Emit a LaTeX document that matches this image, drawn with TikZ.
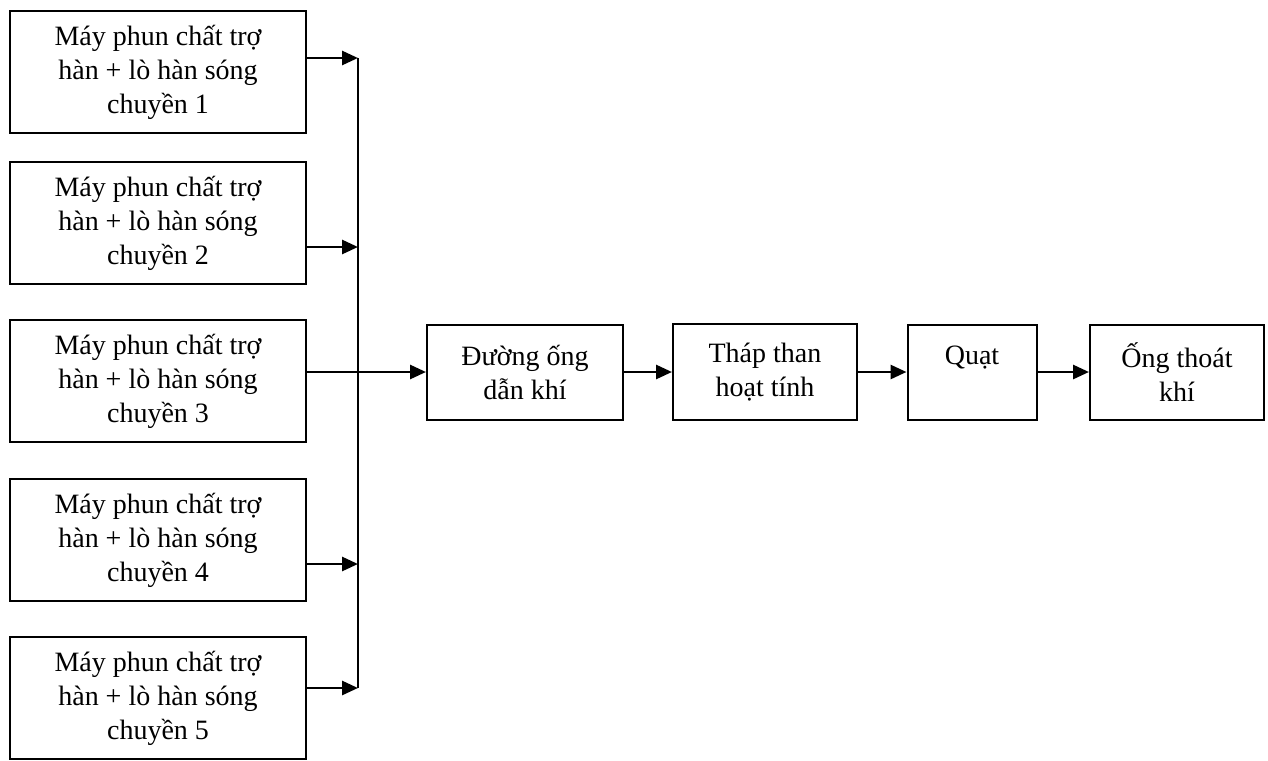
\documentclass[tikz,border=0pt]{standalone}
\usepackage{fontspec}
\setmainfont{Liberation Serif}
\usetikzlibrary{arrows.meta}

\begin{document}
\begin{tikzpicture}[x=0.5pt,y=-0.5pt,
      hop/.style={rectangle, draw, line width=1pt, align=center,
        font=\fontsize{14}{17}\selectfont, inner sep=0pt},
      may/.style={hop, minimum width=148pt, minimum height=61pt},
      arr/.style={-{Triangle[length=8pt,width=7pt]}, line width=1.4pt}
      ]
      \useasboundingbox (0,0) rectangle (1268,760);
      % may phun + lo han
      \node[may] (may1) at (158,72) {Máy phun chất trợ\\hàn + lò hàn sóng\\chuyền 1};
      \node[may] (may2) at (158,223) {Máy phun chất trợ\\hàn + lò hàn sóng\\chuyền 2};
      \node[may] (may3) at (158,381) {Máy phun chất trợ\\hàn + lò hàn sóng\\chuyền 3};
      \node[may] (may4) at (158,540) {Máy phun chất trợ\\hàn + lò hàn sóng\\chuyền 4};
      \node[may] (may5) at (158,698) {Máy phun chất trợ\\hàn + lò hàn sóng\\chuyền 5};
      % xu ly khi
      \node[hop, minimum width=98pt, minimum height=47.5pt] (duong) at (525,372) {Đường ống\\dẫn khí};
      \node[hop, minimum width=92pt, minimum height=48pt] (thap) at (765,372) {Tháp than\\hoạt tính};
      \node[hop, minimum width=64.5pt, minimum height=47.5pt] (quat) at (972,372) {Quạt\\\mbox{}};
      \node[hop, minimum width=87pt, minimum height=47.5pt] (ong) at (1177,372) {Ống thoát\\khí};
      % duong gom
      \coordinate (j1) at (358,58);
      \coordinate (j2) at (358,247);
      \coordinate (j4) at (358,564);
      \coordinate (j5) at (358,688);
      \draw[line width=1.4pt] (j1) -- (j5);
      \draw[arr] (may1.east |- j1) -- (j1);
      \draw[arr] (may2.east |- j2) -- (j2);
      \draw[arr] (may4.east |- j4) -- (j4);
      \draw[arr] (may5.east |- j5) -- (j5);
      \draw[arr] (may3.east |- duong.west) -- (duong.west);
      \draw[arr] (duong) -- (thap);
      \draw[arr] (thap) -- (quat);
      \draw[arr] (quat) -- (ong);
    \end{tikzpicture}
\end{document}
